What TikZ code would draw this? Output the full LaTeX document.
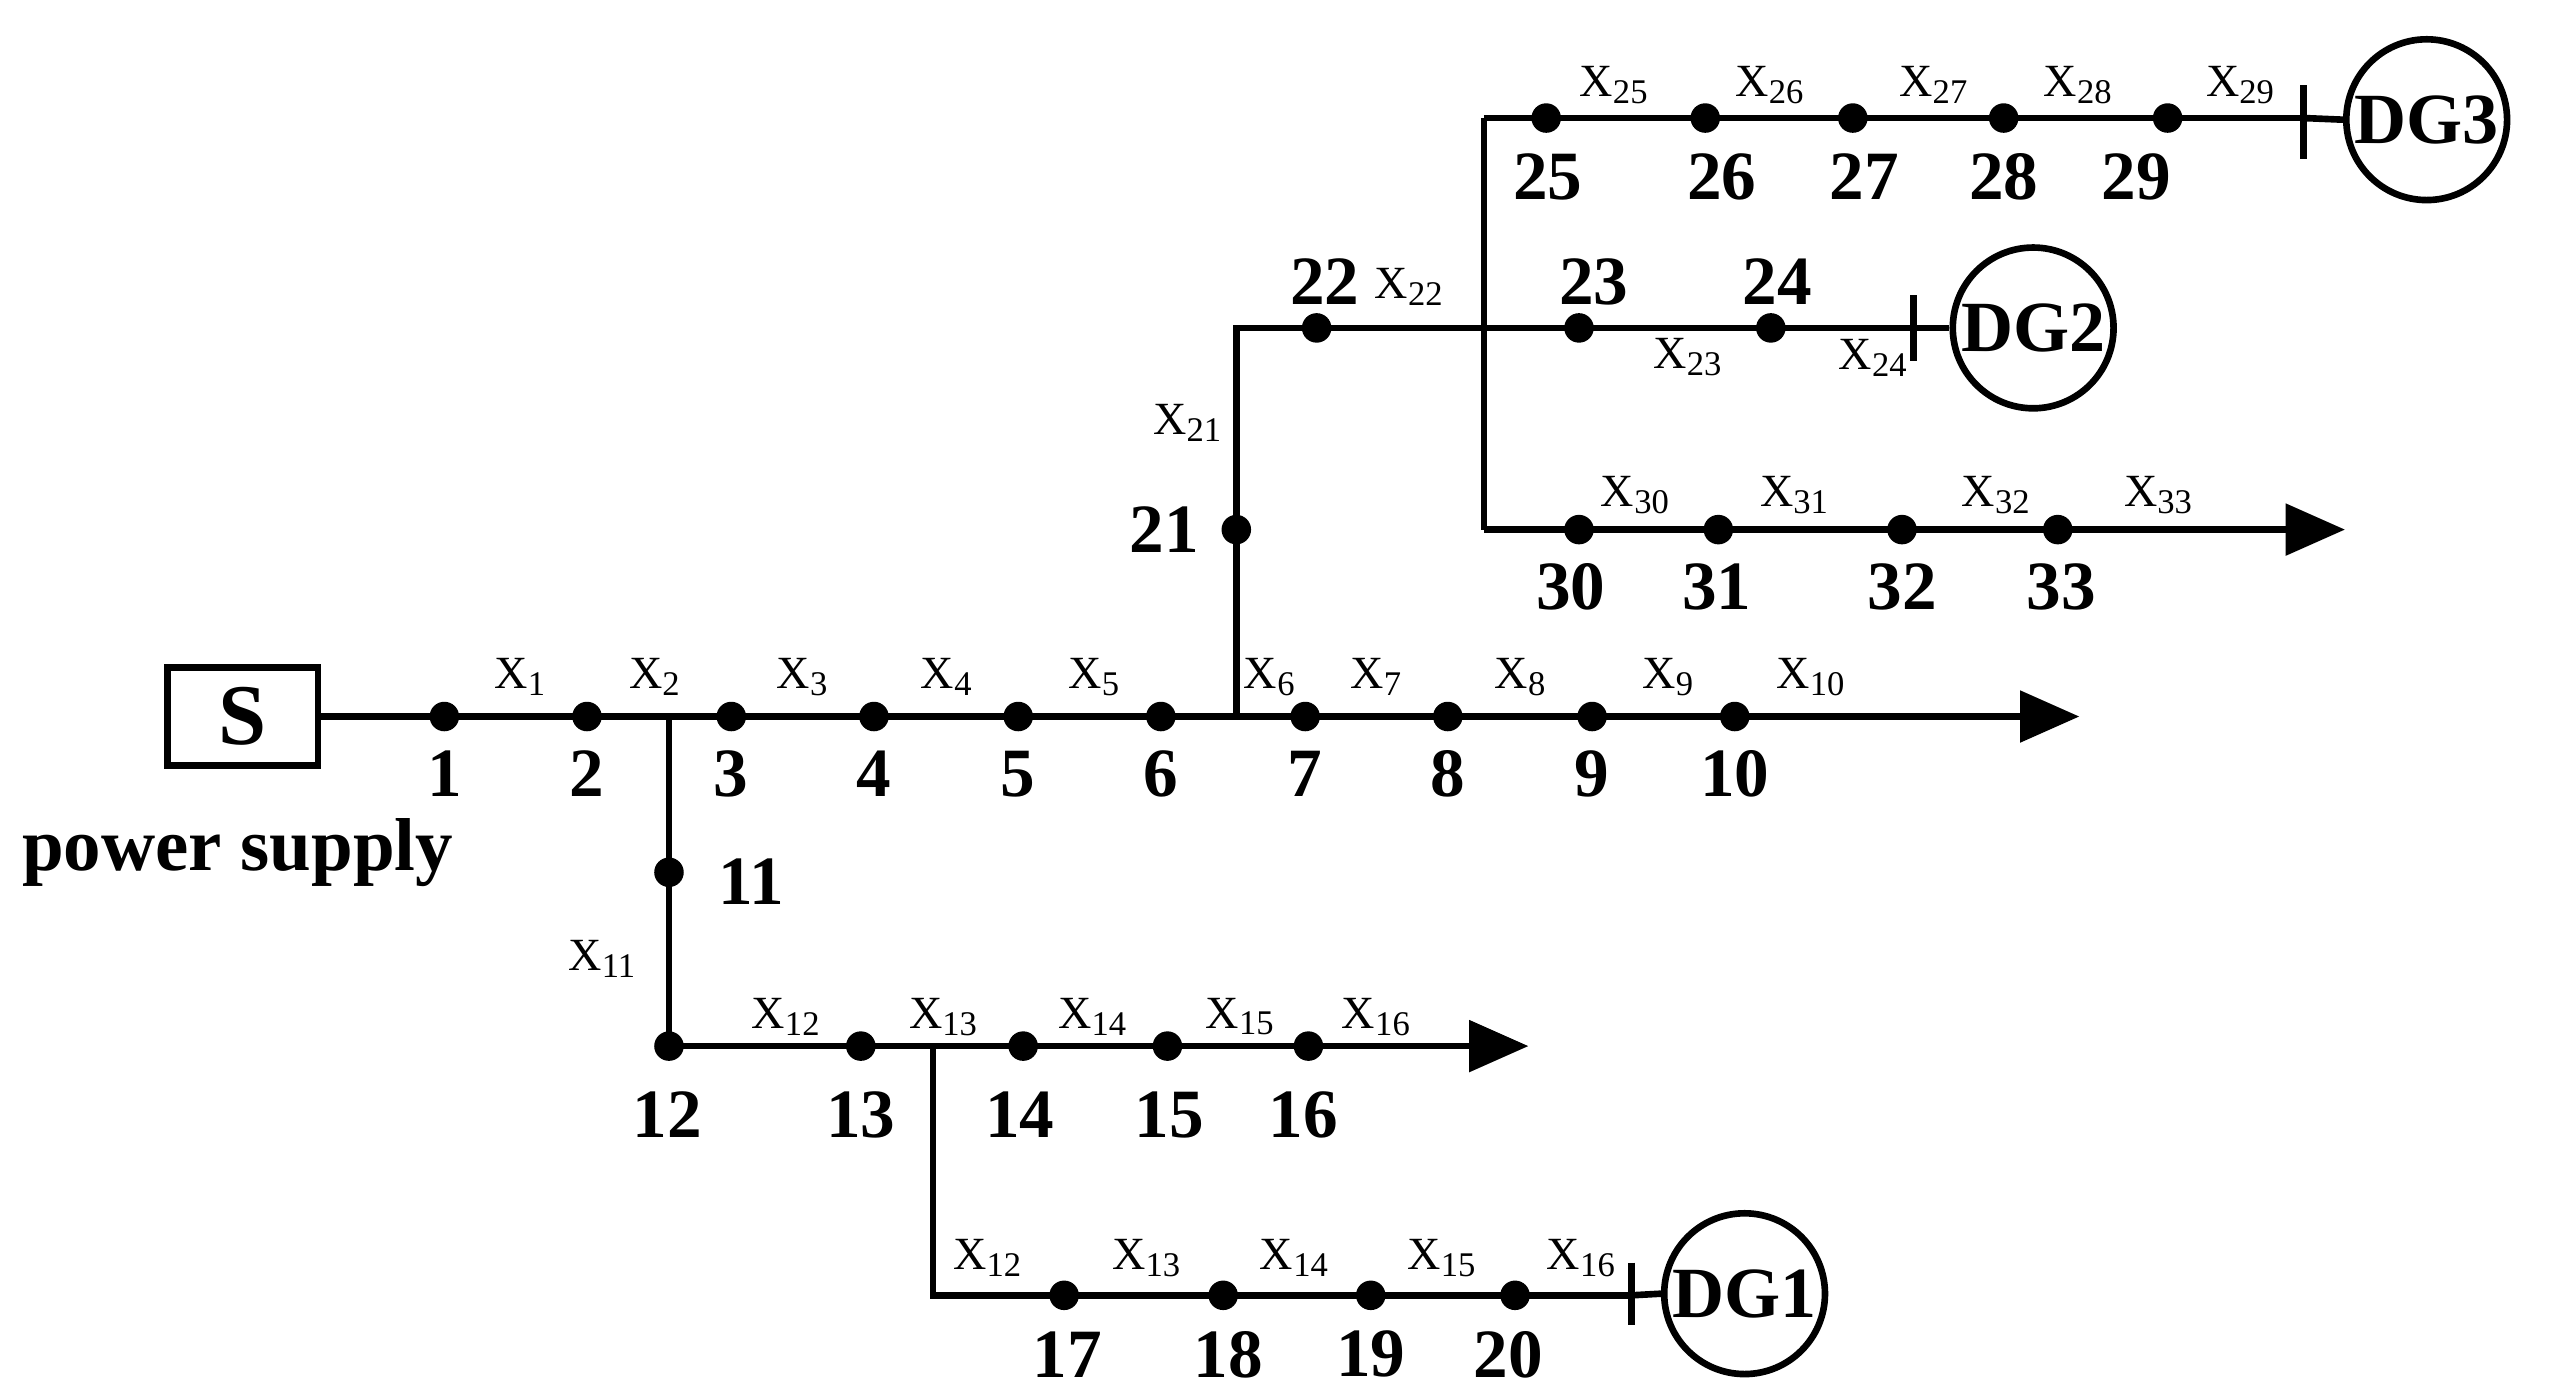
\documentclass[tikz,border=0pt]{standalone}
\usepackage{fontspec}
\setmainfont{Liberation Serif}
\begin{document}
\begin{tikzpicture}[x=0.01cm,y=-0.01cm,
  line/.style={line width=1.15pt},
  bus/.style={circle,fill=black,inner sep=0pt,minimum size=0.18cm},
  num/.style={font=\bfseries\fontsize{12}{12}\selectfont,inner sep=0pt},
  xl/.style={font=\fontsize{8}{8}\selectfont,inner sep=0pt},
  dg/.style={circle,draw,line width=1.15pt,minimum size=0.98cm,inner sep=0pt,font=\bfseries\fontsize{12.5}{12.5}\selectfont},
  tip/.style={fill=black}]
\useasboundingbox (0,0) rectangle (1568,852);
% source
\node[draw,line width=1.15pt,minimum width=0.92cm,minimum height=0.6cm,font=\bfseries\fontsize{15}{15}\selectfont] (S) at (148,437) {S};
\node[num,font=\bfseries\fontsize{13}{13}\selectfont] (ps) at (145,520) {power supply};
% main feeder
\foreach \n/\x in {1/271,2/358,3/446,4/533,5/621,6/708,7/796,8/883,9/971,10/1058}
  {\node[bus] (d\n) at (\x,437) {}; \node[num] at (\x,472) {\n};}
\coordinate (a1) at (1232,437);
\draw[line] (S.east) -- (a1);
\fill[tip] (1232,421) -- (1268,437) -- (1232,453) -- cycle;
\foreach \s/\x in {1/318,2/400,3/490,4/578,5/668,6/775,7/840,8/928,9/1018,10/1105}
  \node[xl] at (\x,413) {X\textsubscript{\s}};
% lateral 11-16
\coordinate (j2) at (408,437);
\node[bus] (d11) at (408,532) {}; \node[num] at (458,538) {11};
\node[xl] at (368,585) {X\textsubscript{11}};
\foreach \n/\x/\lx in {12/408/407,13/525/525,14/624/622,15/712/713,16/798/795}
  {\node[bus] (d\n) at (\x,638) {}; \node[num] at (\lx,680) {\n};}
\coordinate (a2) at (896,638);
\draw[line] (j2) -- (d12.center) -- (a2);
\fill[tip] (896,622) -- (932,638) -- (896,654) -- cycle;
\foreach \s/\x in {12/480,13/576,14/667,15/757,16/840}
  \node[xl] at (\x,620) {X\textsubscript{\s}};
% lateral 17-20 DG1
\coordinate (j13) at (569,638);
\coordinate (c13) at (569,790);
\foreach \n/\x/\lx in {17/649/651,18/746/749,19/836/836,20/924/920}
  {\node[bus] (d\n) at (\x,790) {}; \node[num] at (\lx,826) {\n};}
\node[dg] (DG1) at (1064,789) {DG1};
\coordinate (b1) at (995,790);
\draw[line] (j13) -- (c13) -- (b1);
\draw[line] (995,770) -- (995,808);
\draw[line] (b1) -- (DG1.west);
\foreach \s/\x in {12/603,13/700,14/790,15/880,16/965}
  \node[xl] at (\x,767) {X\textsubscript{\s}};
% lateral 21-24 DG2
\coordinate (j6) at (754,437);
\coordinate (c21) at (754,200);
\node[bus] (d21) at (754,323) {}; \node[num] at (710,323) {21};
\node[xl] at (725,258) {X\textsubscript{21}};
\foreach \n/\x/\lx in {22/803/808,23/963/972,24/1080/1084}
  {\node[bus] (d\n) at (\x,200) {}; \node[num] at (\lx,172) {\n};}
\node[dg] (DG2) at (1240,200) {DG2};
\coordinate (b2) at (1167,200);
\draw[line] (j6) -- (c21) -- (b2);
\draw[line] (1167,180) -- (1167,220);
\draw[line] (b2) -- (DG2.west);
\node[xl] at (860,175) {X\textsubscript{22}};
\node[xl] at (1030,218) {X\textsubscript{23}};
\node[xl] at (1143,218) {X\textsubscript{24}};
% lateral 25-29 DG3 and 30-33
\coordinate (t) at (905,72);
\coordinate (bt) at (905,323);
\draw[line] (t) -- (bt);
\foreach \n/\x/\lx in {25/943/944,26/1040/1050,27/1130/1137,28/1222/1222,29/1322/1303}
  {\node[bus] (d\n) at (\x,72) {}; \node[num] at (\lx,108) {\n};}
\node[dg] (DG3) at (1480,73) {DG3};
\coordinate (b3) at (1405,72);
\draw[line] (t) -- (b3);
\draw[line] (1405,52) -- (1405,97);
\draw[line] (b3) -- (DG3.west);
\foreach \s/\x in {25/985,26/1080,27/1180,28/1268,29/1367}
  \node[xl] at (\x,52) {X\textsubscript{\s}};
\foreach \n/\x/\lx in {30/963/958,31/1048/1047,32/1160/1160,33/1255/1257}
  {\node[bus] (d\n) at (\x,323) {}; \node[num] at (\lx,358) {\n};}
\coordinate (a3) at (1394,323);
\draw[line] (bt) -- (a3);
\fill[tip] (1394,307) -- (1430,323) -- (1394,339) -- cycle;
\foreach \s/\x in {30/998,31/1095,32/1218,33/1317}
  \node[xl] at (\x,302) {X\textsubscript{\s}};
\end{tikzpicture}
\end{document}
